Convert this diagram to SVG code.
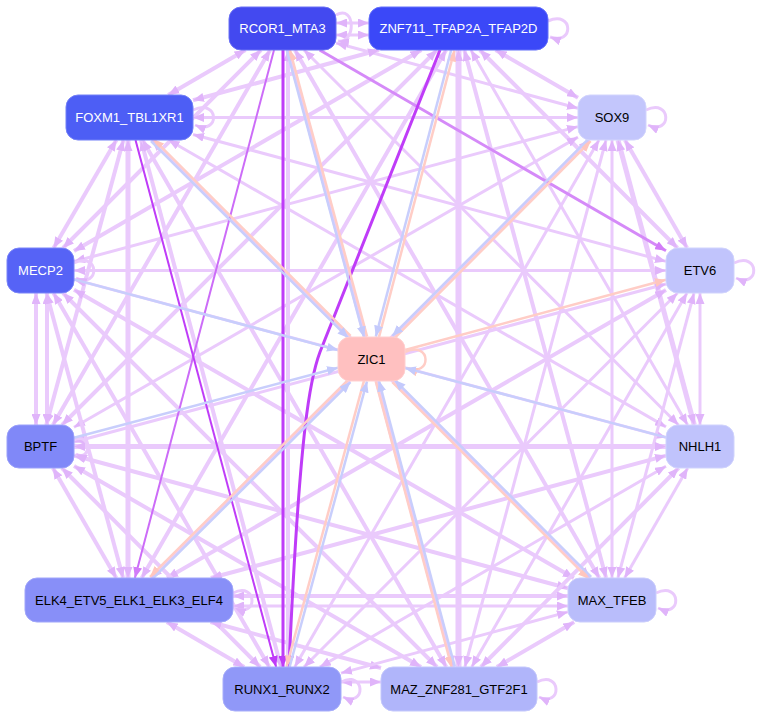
<svg xmlns="http://www.w3.org/2000/svg" width="766" height="718" viewBox="0 0 766 718">
<defs>
<marker id="hL" markerUnits="userSpaceOnUse" viewBox="0 0 11 9" refX="11" refY="4.5" markerWidth="11" markerHeight="9" orient="auto-start-reverse"><path d="M0,0 L11,4.5 L0,9 z" fill="#e0b4fa"/></marker>
<marker id="hD" markerUnits="userSpaceOnUse" viewBox="0 0 11 9" refX="11" refY="4.5" markerWidth="11" markerHeight="9" orient="auto-start-reverse"><path d="M0,0 L11,4.5 L0,9 z" fill="#bf3cf8"/></marker>
<marker id="hM" markerUnits="userSpaceOnUse" viewBox="0 0 11 9" refX="11" refY="4.5" markerWidth="11" markerHeight="9" orient="auto-start-reverse"><path d="M0,0 L11,4.5 L0,9 z" fill="#d27cf8"/></marker>
<marker id="hP" markerUnits="userSpaceOnUse" viewBox="0 0 11 9" refX="11" refY="4.5" markerWidth="11" markerHeight="9" orient="auto-start-reverse"><path d="M0,0 L11,4.5 L0,9 z" fill="#ffc6be"/></marker>
<marker id="hB" markerUnits="userSpaceOnUse" viewBox="0 0 11 9" refX="11" refY="4.5" markerWidth="11" markerHeight="9" orient="auto-start-reverse"><path d="M0,0 L11,4.5 L0,9 z" fill="#c4cafc"/></marker>
</defs>
<style>
.e{fill:none;stroke:#eacafc;stroke-width:3;marker-start:url(#hL);marker-end:url(#hL)}
.w2{stroke-width:2}.w4{stroke-width:4}.w5{stroke-width:5}.w6{stroke-width:6}
.dk{stroke:#bf3cf8;marker-start:none;marker-end:url(#hD)}
.md{stroke:#d58af8;marker-start:none;marker-end:url(#hM)}
.m2{stroke:#cc6cf8;marker-start:none;marker-end:url(#hM)}
.pk{fill:none;stroke:#ffcdc6;stroke-width:2.5;marker-end:url(#hP)}
.bl{fill:none;stroke:#c8cefc;stroke-width:2.5;marker-end:url(#hB)}
.lp{fill:none;stroke:#eacafc;stroke-width:3;marker-end:url(#hL)}
.n rect{rx:12;ry:12;stroke-width:1}
.n text{font-family:"Liberation Sans",Arial,sans-serif;font-size:13px;text-anchor:middle}
.wt text{fill:#ffffff}.bk text{fill:#000000}
</style>
<rect width="766" height="718" fill="#ffffff"/>
<g id="connectors">
<line class="e" x1="336" y1="23" x2="369" y2="23"/>
<line class="e" x1="336" y1="35" x2="369" y2="35"/>
<line class="e w4" x1="245.5" y1="50" x2="168.2" y2="95"/>
<line class="e" x1="336" y1="43" x2="578" y2="108.3"/>
<line class="e w4" x1="261" y1="50" x2="63" y2="248"/>
<line class="e w4" x1="270.1" y1="50" x2="52.9" y2="425"/>
<line class="e" x1="304" y1="50" x2="678.5" y2="425"/>
<line class="e w4" x1="294.9" y1="50" x2="599.3" y2="578"/>
<line class="e w4" x1="288" y1="50" x2="288" y2="667"/>
<line class="e w4" x1="288.2" y1="50" x2="453.1" y2="667"/>
<line class="e w4" x1="379" y1="50" x2="193" y2="100.3"/>
<line class="e w4" x1="495.6" y1="50" x2="578" y2="97.8"/>
<line class="e w4" x1="421.4" y1="50" x2="74" y2="251.1"/>
<line class="e w4" x1="479.9" y1="50" x2="677.5" y2="248"/>
<line class="e w4" x1="437" y1="50" x2="62" y2="425"/>
<line class="e" x1="470.9" y1="50" x2="687.6" y2="425"/>
<line class="e w4" x1="446.1" y1="50" x2="141.7" y2="578"/>
<line class="e w4" x1="464.3" y1="50" x2="606.1" y2="578"/>
<line class="e w6" x1="458.5" y1="50" x2="458.5" y2="667"/>
<line class="e" x1="193" y1="117.5" x2="578" y2="117.5"/>
<line class="e w4" x1="116.4" y1="140" x2="53.6" y2="248"/>
<line class="e" x1="193" y1="134.5" x2="666" y2="261.4"/>
<line class="e w4" x1="123.4" y1="140" x2="46.3" y2="425"/>
<line class="e" x1="168.5" y1="140" x2="666" y2="426.9"/>
<line class="e w5" x1="128" y1="140" x2="128" y2="578"/>
<line class="e w4" x1="152" y1="140" x2="590" y2="578"/>
<line class="e w4" x1="141" y1="140" x2="281" y2="667"/>
<line class="e w4" x1="142.5" y1="140" x2="446.3" y2="667"/>
<line class="e" x1="578" y1="126.6" x2="74" y2="261.5"/>
<line class="e w4" x1="624.9" y1="140" x2="687.1" y2="248"/>
<line class="e" x1="578" y1="137.1" x2="74" y2="427.2"/>
<line class="e w5" x1="618" y1="140" x2="694.3" y2="425"/>
<line class="e w4" x1="589.5" y1="140" x2="151" y2="578"/>
<line class="e" x1="612" y1="140" x2="612" y2="578"/>
<line class="e" x1="599" y1="140" x2="294.7" y2="667"/>
<line class="e" x1="606" y1="140" x2="464.9" y2="667"/>
<line class="e" x1="74" y1="270.5" x2="666" y2="270.5"/>
<line class="e w4" x1="36" y1="293" x2="36" y2="425"/>
<line class="e w4" x1="47" y1="293" x2="47" y2="425"/>
<line class="e" x1="74" y1="279.4" x2="666" y2="437.4"/>
<line class="e w4" x1="46.5" y1="293" x2="123.1" y2="578"/>
<line class="e w4" x1="74" y1="289.8" x2="573.8" y2="578"/>
<line class="e w4" x1="53.5" y1="293" x2="269.3" y2="667"/>
<line class="e w4" x1="63" y1="293" x2="437" y2="667"/>
<line class="e" x1="666" y1="284" x2="74" y2="442"/>
<line class="e" x1="700" y1="293" x2="700" y2="425"/>
<line class="e w4" x1="666" y1="290.1" x2="167.1" y2="578"/>
<line class="e" x1="694" y1="293" x2="617.9" y2="578"/>
<line class="e" x1="677.5" y1="293" x2="304" y2="667"/>
<line class="e" x1="687" y1="293" x2="471.7" y2="667"/>
<line class="e w5" x1="74" y1="446.5" x2="666" y2="446.5"/>
<line class="e w4" x1="52.9" y1="468" x2="116.3" y2="578"/>
<line class="e w4" x1="74" y1="455.5" x2="568" y2="588.2"/>
<line class="e w4" x1="61.9" y1="468" x2="260.1" y2="667"/>
<line class="e w4" x1="74" y1="465.9" x2="421" y2="667"/>
<line class="e w4" x1="666" y1="455.6" x2="210.8" y2="578"/>
<line class="e" x1="687.7" y1="468" x2="624.6" y2="578"/>
<line class="e" x1="666" y1="466.2" x2="319.9" y2="667"/>
<line class="e w4" x1="678.6" y1="468" x2="480.9" y2="667"/>
<line class="e w4" x1="233" y1="596" x2="568" y2="596"/>
<line class="e" x1="233" y1="606" x2="568" y2="606"/>
<line class="e w4" x1="166.8" y1="622" x2="244.2" y2="667"/>
<line class="e w4" x1="210.5" y1="622" x2="381" y2="668"/>
<line class="e" x1="568" y1="611.9" x2="341" y2="673.1"/>
<line class="e w4" x1="574.2" y1="622" x2="496.8" y2="667"/>
<line class="e" x1="341" y1="682" x2="381" y2="682"/>
<line class="e md" x1="319.6" y1="50" x2="666" y2="250.8"/>
<line class="e m2 w2" x1="274" y1="50" x2="134.9" y2="578"/>
<line class="e dk" x1="283" y1="50" x2="283" y2="667"/>
<line class="e dk w2" x1="135.5" y1="140" x2="276.1" y2="667"/>
<path class="e dk" d="M440,50 L320,352 C311,376 300,420 289,667"/>
<path class="lp" d="M336,15 C356,4 356,44 338,41"/>
<path class="lp" d="M548,21 C574,10 574,46 550,37"/>
<path class="lp" d="M193,110 C220,98 220,136 195,125"/>
<path class="lp" d="M646,110 C672,98 672,136 648,125"/>
<path class="lp" d="M74,263 C100,251 100,289 76,278"/>
<path class="lp" d="M734,263 C760,251 760,289 736,278"/>
<path class="lp" d="M74,440 C92,432 92,462 76,454"/>
<path class="lp" d="M233,593 C258,581 258,619 235,608"/>
<path class="lp" d="M656,593 C682,581 682,619 658,608"/>
<path class="lp" d="M341,682 C366,670 366,708 343,697"/>
<path class="lp" d="M537,682 C562,670 562,708 539,697"/>
<path class="pk" d="M405,352 C432,340 432,378 407,368"/>
<line class="pk" x1="367.1" y1="336.6" x2="289.8" y2="49.6"/>
<line class="bl" x1="286.8" y1="50.4" x2="364.1" y2="337.4"/>
<line class="pk" x1="378.9" y1="337.4" x2="454.4" y2="50.4"/>
<line class="bl" x1="451.3" y1="49.6" x2="375.8" y2="336.6"/>
<line class="pk" x1="350.6" y1="335.9" x2="153.2" y2="138.9"/>
<line class="bl" x1="151" y1="141.1" x2="348.4" y2="338.1"/>
<line class="pk" x1="394.5" y1="338.1" x2="590.7" y2="141.1"/>
<line class="bl" x1="588.5" y1="138.9" x2="392.3" y2="335.9"/>
<line class="pk" x1="348.3" y1="379.9" x2="150" y2="576.9"/>
<line class="bl" x1="152.2" y1="579.1" x2="350.5" y2="382.1"/>
<line class="pk" x1="392.4" y1="382.1" x2="588.9" y2="579.1"/>
<line class="bl" x1="591.1" y1="576.9" x2="394.6" y2="379.9"/>
<line class="pk" x1="364" y1="380.6" x2="286.5" y2="666.6"/>
<line class="bl" x1="289.5" y1="667.4" x2="367" y2="381.4"/>
<line class="pk" x1="375.8" y1="381.4" x2="451.7" y2="667.4"/>
<line class="bl" x1="454.8" y1="666.6" x2="378.9" y2="380.6"/>
<line class="bl" x1="74" y1="279.4" x2="338" y2="350.1"/>
<line class="bl" x1="74" y1="437.7" x2="338" y2="367.8"/>
<line class="bl" x1="666" y1="437.4" x2="405" y2="367.9"/>
<line class="pk" x1="405" y1="350" x2="666" y2="279.7"/>
</g>
<g id="RCOR1_MTA3" class="n wt"><rect x="229" y="7" width="107" height="43" fill="#4349f0" stroke="#6a70f4"/><text x="282.5" y="33">RCOR1_MTA3</text></g>
<g id="ZNF711_TFAP2A_TFAP2D" class="n wt"><rect x="369" y="7" width="179" height="43" fill="#3b48f8" stroke="#6570fa"/><text x="458.5" y="33">ZNF711_TFAP2A_TFAP2D</text></g>
<g id="FOXM1_TBL1XR1" class="n wt"><rect x="66" y="95" width="127" height="45" fill="#4d5ef5" stroke="#7380f7"/><text x="129.5" y="122">FOXM1_TBL1XR1</text></g>
<g id="SOX9" class="n bk"><rect x="578" y="95" width="68" height="45" fill="#c3c6fc" stroke="#d2d4fd"/><text x="612" y="122">SOX9</text></g>
<g id="MECP2" class="n wt"><rect x="7" y="248" width="67" height="45" fill="#5663f6" stroke="#7a84f8"/><text x="40.5" y="275">MECP2</text></g>
<g id="ETV6" class="n bk"><rect x="666" y="248" width="68" height="45" fill="#c1c4fc" stroke="#d0d3fd"/><text x="700" y="275">ETV6</text></g>
<g id="ZIC1" class="n bk"><rect x="338" y="337" width="67" height="44" fill="#ffc0c0" stroke="#ffd0d0"/><text x="371.5" y="363.5">ZIC1</text></g>
<g id="BPTF" class="n bk"><rect x="7" y="425" width="67" height="43" fill="#8088f8" stroke="#9aa0fa"/><text x="40.5" y="451">BPTF</text></g>
<g id="NHLH1" class="n bk"><rect x="666" y="425" width="68" height="43" fill="#c0c3fc" stroke="#d0d3fd"/><text x="700" y="451">NHLH1</text></g>
<g id="ELK4_ETV5_ELK1_ELK3_ELF4" class="n bk"><rect x="25" y="578" width="208" height="44" fill="#888ff8" stroke="#a0a6fa"/><text x="129" y="604.5">ELK4_ETV5_ELK1_ELK3_ELF4</text></g>
<g id="MAX_TFEB" class="n bk"><rect x="568" y="578" width="88" height="44" fill="#b9bdfb" stroke="#cacdfc"/><text x="612" y="604.5">MAX_TFEB</text></g>
<g id="RUNX1_RUNX2" class="n bk"><rect x="223" y="667" width="118" height="44" fill="#9098f8" stroke="#a8aefa"/><text x="282" y="693.5">RUNX1_RUNX2</text></g>
<g id="MAZ_ZNF281_GTF2F1" class="n bk"><rect x="381" y="667" width="156" height="44" fill="#b0b5fa" stroke="#c4c8fc"/><text x="459" y="693.5">MAZ_ZNF281_GTF2F1</text></g>
</svg>
